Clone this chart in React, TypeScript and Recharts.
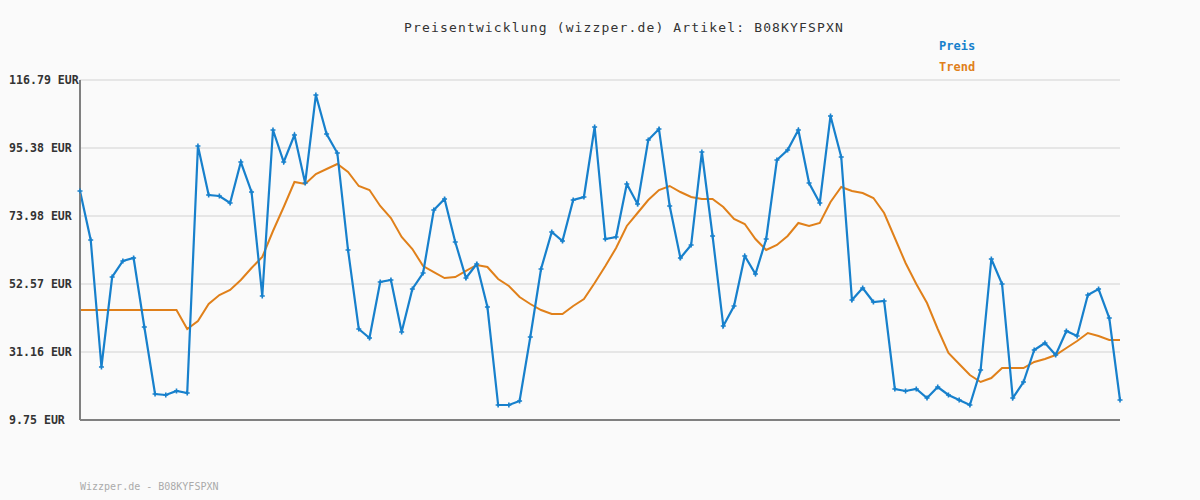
import { LineChart, Line, XAxis, YAxis, CartesianGrid, ReferenceLine } from "recharts";

const preis = [
  81.84, 66.42, 26.44, 54.77, 59.81, 60.75, 39.03, 17.94, 17.62, 18.88,
  18.25, 96.01, 80.58, 80.27, 78.07, 90.97, 81.53, 48.79, 101.05, 90.97,
  99.47, 84.36, 112.07, 99.79, 93.81, 63.27, 38.4, 35.57, 53.2, 53.82,
  37.45, 50.99, 56.03, 75.86, 79.33, 65.79, 54.45, 58.86, 45.32, 14.47,
  14.47, 15.73, 35.88, 57.29, 68.94, 66.1, 79.01, 79.95, 101.99, 66.73,
  67.36, 84.05, 77.75, 97.9, 101.36, 77.12, 60.75, 64.84, 94.12, 67.68,
  39.34, 45.64, 61.38, 55.71, 66.73, 91.6, 94.75, 101.05, 84.36, 78.07,
  105.46, 92.55, 47.53, 51.31, 46.9, 47.21, 19.51, 18.88, 19.51, 16.68,
  20.14, 17.62, 16.05, 14.47, 25.49, 60.44, 52.57, 16.68, 21.71, 31.79,
  33.99, 30.21, 37.77, 36.19, 49.1, 50.99, 41.86, 16.05,
];

const trend = [
  44.38, 44.38, 44.38, 44.38, 44.38, 44.38, 44.38, 44.38, 44.38, 44.38,
  38.4, 40.92, 46.27, 49.1, 50.68, 53.82, 57.6, 61.07, 69.25, 76.81,
  84.68, 84.05, 87.2, 88.77, 90.34, 87.83, 83.42, 82.16, 77.12, 73.34,
  67.36, 63.58, 58.23, 56.34, 54.45, 54.77, 56.66, 58.55, 57.92, 54.14,
  51.94, 48.47, 46.27, 44.38, 43.12, 43.12, 45.64, 47.84, 52.88, 58.23,
  63.9, 70.83, 74.92, 79.01, 82.16, 83.42, 81.53, 79.95, 79.33, 79.33,
  76.81, 73.03, 71.45, 66.73, 63.27, 64.84, 67.68, 71.77, 70.83, 71.77,
  78.38, 83.1, 81.84, 81.21, 79.64, 74.92, 67.05, 59.18, 52.57, 46.58,
  38.4, 30.84, 27.38, 23.92, 21.71, 22.97, 26.12, 26.12, 26.12, 28.01,
  28.95, 30.21, 32.42, 34.62, 37.14, 36.19, 34.94, 34.94,
];

const yTicks = [9.75, 31.16, 52.57, 73.98, 95.38, 116.79];

const BLUE = "#1780cc";
const ORANGE = "#e0801a";
const MONO = "'DejaVu Sans Mono', monospace";

const data = preis.map((p, i) => ({ i, preis: p, trend: trend[i] }));

// small "+" marker like the original
function PlusDot(props: any) {
  const { cx, cy } = props;
  if (cx == null || cy == null) return null;
  return (
    <path
      d={`M${cx - 2.5},${cy}H${cx + 2.5}M${cx},${cy - 2.5}V${cy + 2.5}`}
      stroke={BLUE}
      strokeWidth={1.6}
    />
  );
}

// labels are left aligned in the original
function EurTick(props: any) {
  const { y, payload } = props;
  return (
    <text
      x={9}
      y={y}
      dy={4}
      textAnchor="start"
      fill="#333"
      fontSize={11.6}
      fontWeight="bold"
      fontFamily={MONO}
    >
      {`${Number(payload.value).toFixed(2)} EUR`}
    </text>
  );
}

export default function App() {
  return (
    <div
      style={{
        position: "absolute",
        left: 0,
        top: 0,
        width: 1200,
        height: 500,
        background: "#fafafa",
        fontFamily: MONO,
      }}
    >
      <div
        style={{
          position: "absolute",
          top: 20,
          left: 0,
          width: 1248,
          textAlign: "center",
          fontSize: 13,
          letterSpacing: 1.15,
          color: "#333",
        }}
      >
        Preisentwicklung (wizzper.de) Artikel: B08KYFSPXN
      </div>
      <div style={{ position: "absolute", top: 39, left: 939, fontSize: 12, fontWeight: "bold", color: BLUE }}>
        Preis
      </div>
      <div style={{ position: "absolute", top: 60, left: 939, fontSize: 12, fontWeight: "bold", color: ORANGE }}>
        Trend
      </div>
      <div style={{ position: "absolute", top: 481, left: 80, fontSize: 10, color: "#aaa" }}>
        Wizzper.de - B08KYFSPXN
      </div>
      <LineChart
        width={1200}
        height={500}
        data={data}
        margin={{ top: 80, right: 80, bottom: 80, left: 0 }}
        style={{ position: "absolute", left: 0, top: 0 }}
      >
        <CartesianGrid horizontal vertical={false} stroke="#e6e6e6" strokeWidth={2} />
        <XAxis
          dataKey="i"
          type="category"
          tick={false}
          tickLine={false}
          axisLine={{ stroke: "#808080", strokeWidth: 2 }}
          height={0}
        />
        <YAxis
          type="number"
          domain={[9.75, 116.79]}
          ticks={yTicks}
          width={80}
          tickLine={false}
          tickSize={0}
          axisLine={{ stroke: "#808080", strokeWidth: 2 }}
          tick={<EurTick />}
        />
        <ReferenceLine y={9.75} stroke="#808080" strokeWidth={2} ifOverflow="extendDomain" />
        <Line
          type="linear"
          dataKey="trend"
          stroke={ORANGE}
          strokeWidth={2}
          dot={false}
          isAnimationActive={false}
        />
        <Line
          type="linear"
          dataKey="preis"
          stroke={BLUE}
          strokeWidth={2.2}
          dot={<PlusDot />}
          isAnimationActive={false}
        />
      </LineChart>
    </div>
  );
}
